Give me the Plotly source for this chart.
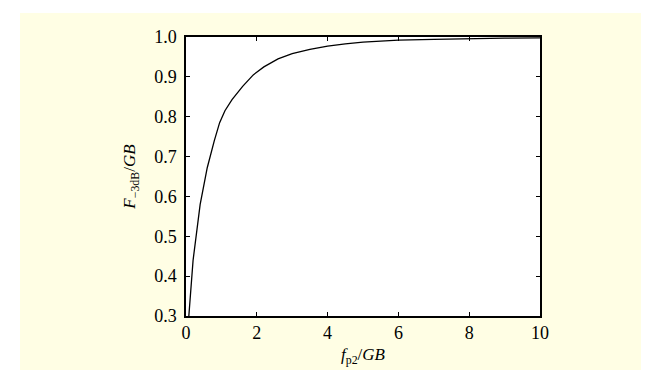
import plotly.graph_objects as go

# Data
ratio_fp2_gb = [0.08, 0.2, 0.4, 0.6, 0.8, 0.95, 1.1, 1.3, 1.6, 1.9, 2.2, 2.6,
                3.0, 3.5, 4.0, 4.5, 5.0, 6.0, 7.0, 8.0, 9.0, 10.0]
ratio_f3db_gb = [0.30, 0.44, 0.58, 0.672, 0.74, 0.785, 0.815, 0.843, 0.876, 0.905,
                 0.925, 0.945, 0.958, 0.969, 0.977, 0.983, 0.987, 0.992,
                 0.994, 0.996, 0.997, 0.998]
x_ticks = [0, 2, 4, 6, 8, 10]
y_ticks = [0.3, 0.4, 0.5, 0.6, 0.7, 0.8, 0.9, 1.0]

W, H = 649, 370
L, R, T, B = 178, 532, 29, 308
pw, ph = R - L, B - T
SERIF = "Liberation Serif"

fig = go.Figure()
fig.add_trace(go.Scatter(x=ratio_fp2_gb, y=ratio_f3db_gb, mode="lines",
                         line=dict(color="black", width=1.3), showlegend=False))

beige = "#FFFEE4"
fig.update_layout(
    width=W, height=H,
    margin=dict(l=L, r=W - R, t=T, b=H - B, pad=0),
    paper_bgcolor="white",
    plot_bgcolor="white",
    font=dict(family=SERIF, size=18, color="black"),
    shapes=[
        dict(type="rect", xref="paper", yref="paper", layer="below",
             x0=(12 - L) / pw, x1=(645 - L) / pw,
             y0=(B - 363) / ph, y1=(B - 5) / ph,
             fillcolor=beige, line=dict(width=0)),
        dict(type="rect", xref="paper", yref="paper", layer="below",
             x0=0, x1=1, y0=0, y1=1,
             fillcolor="white", line=dict(width=0)),
    ],
)
fig.update_xaxes(range=[0, 10], tickvals=x_ticks, ticktext=[str(v) for v in x_ticks],
                 ticks="inside", ticklen=4, tickwidth=1, tickcolor="black",
                 showline=True, linecolor="black", linewidth=1.5, mirror="ticks",
                 showgrid=False, zeroline=False,
                 title=dict(text="<i>f</i><sub>p2</sub>/<i>GB</i>", standoff=6,
                            font=dict(family=SERIF, size=17, color="black")),
                 tickfont=dict(family=SERIF, size=18, color="black"))
fig.update_yaxes(range=[0.3, 1.0], tickvals=y_ticks,
                 ticktext=[f"{v:.1f}" for v in y_ticks],
                 ticks="inside", ticklen=4, tickwidth=1, tickcolor="black",
                 ticklabelstandoff=4,
                 showline=True, linecolor="black", linewidth=1.5, mirror="ticks",
                 showgrid=False, zeroline=False,
                 title=dict(text="<i>F</i><sub>−3dB</sub>/<i>GB</i>", standoff=14,
                            font=dict(family=SERIF, size=17, color="black")),
                 tickfont=dict(family=SERIF, size=18, color="black"))

fig.write_html("out.html")
